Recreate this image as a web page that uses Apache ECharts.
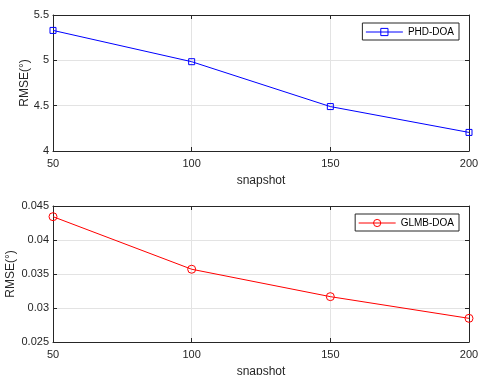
<!DOCTYPE html>
<html><head><meta charset="utf-8">
<script src="https://cdn.jsdelivr.net/npm/echarts@6/dist/echarts.min.js"></script>
<style>html,body{margin:0;padding:0;background:#fff}#c{width:479px;height:375px}</style>
</head><body><div id="c"></div>
<script>
const snapshots = [50, 100, 150, 200];
const phdDoa = [5.33, 4.985, 4.49, 4.205];
const glmbDoa = [0.04343, 0.0357, 0.03167, 0.02848];
const xTicks = [50, 100, 150, 200];

const chart = echarts.init(document.getElementById('c'));
const axisCol = '#262626';
const font = 'Liberation Sans, Arial, sans-serif';
const grids = [
  {left: 53, top: 15, width: 416, height: 136, show: false, containLabel: false, outerBoundsMode: 'none'},
  {left: 53, top: 206, width: 416, height: 136, show: false, containLabel: false, outerBoundsMode: 'none'}
];
function xAxisMain(gi) {
  return {type: 'value', gridIndex: gi, min: 50, max: 200, interval: 50,
    name: 'snapshot', nameLocation: 'middle', nameGap: 24, nameMoveOverlap: false,
    nameTextStyle: {color: axisCol, fontSize: 12, fontFamily: font},
    axisLine: {show: true, onZero: false, lineStyle: {color: axisCol, width: 1}},
    axisTick: {show: true, inside: true, length: 4, lineStyle: {color: axisCol}},
    axisLabel: {color: axisCol, fontSize: 11, fontFamily: font, margin: 7},
    splitLine: {show: true, lineStyle: {color: '#e3e3e3', width: 1}}};
}
function xAxisTop(gi) {
  return {type: 'value', gridIndex: gi, position: 'top', min: 50, max: 200, interval: 50,
    axisLine: {show: true, onZero: false, lineStyle: {color: axisCol, width: 1}},
    axisTick: {show: true, inside: true, length: 4, lineStyle: {color: axisCol}},
    axisLabel: {show: false}, splitLine: {show: false}};
}
function yAxisMain(gi, min, max, interval, gap, fmt) {
  return {type: 'value', gridIndex: gi, min: min, max: max, interval: interval,
    name: 'RMSE(°)', nameLocation: 'middle', nameGap: gap, nameRotate: 90, nameMoveOverlap: false,
    nameTextStyle: {color: axisCol, fontSize: 12, fontFamily: font},
    axisLine: {show: true, onZero: false, lineStyle: {color: axisCol, width: 1}},
    axisTick: {show: true, inside: true, length: 4, lineStyle: {color: axisCol}},
    axisLabel: {color: axisCol, fontSize: 11, fontFamily: font, margin: 4, formatter: fmt},
    splitLine: {show: true, lineStyle: {color: '#e3e3e3', width: 1}}};
}
function yAxisRight(gi, min, max, interval) {
  return {type: 'value', gridIndex: gi, position: 'right', min: min, max: max, interval: interval,
    axisLine: {show: true, onZero: false, lineStyle: {color: axisCol, width: 1}},
    axisTick: {show: true, inside: true, length: 4, lineStyle: {color: axisCol}},
    axisLabel: {show: false}, splitLine: {show: false}};
}
const fmtTop = v => String(+v.toFixed(2));
const fmtBot = v => String(+v.toFixed(3));
function legendCfg(name, top) {
  return {data: [name], right: 20, top: top, orient: 'vertical', itemWidth: 37, itemHeight: 9,
    padding: [4, 5, 3, 3], borderColor: axisCol, borderWidth: 1, backgroundColor: '#fff', borderRadius: 0,
    lineStyle: {width: 1}, itemStyle: {borderWidth: 1},
    textStyle: {color: '#000', fontSize: 10, fontFamily: font}, itemGap: 2};
}

chart.setOption({
  animation: false,
  backgroundColor: '#fff',
  grid: grids,
  xAxis: [xAxisMain(0), xAxisTop(0), xAxisMain(1), xAxisTop(1)],
  yAxis: [yAxisMain(0, 4, 5.5, 0.5, 22, fmtTop), yAxisRight(0, 4, 5.5, 0.5),
          yAxisMain(1, 0.025, 0.045, 0.005, 36, fmtBot), yAxisRight(1, 0.025, 0.045, 0.005)],
  legend: [legendCfg('PHD-DOA', 23), legendCfg('GLMB-DOA', 214)],
  series: [
    {name: 'PHD-DOA', type: 'line', xAxisIndex: 0, yAxisIndex: 0,
     data: snapshots.map((s, i) => [s, phdDoa[i]]),
     symbol: 'rect', symbolSize: 6, showAllSymbol: true,
     lineStyle: {color: '#0000ff', width: 1}, itemStyle: {color: 'rgba(0,0,0,0)', borderColor: '#0000ff', borderWidth: 1}},
    {name: 'GLMB-DOA', type: 'line', xAxisIndex: 2, yAxisIndex: 2,
     data: snapshots.map((s, i) => [s, glmbDoa[i]]),
     symbol: 'circle', symbolSize: 8, showAllSymbol: true,
     lineStyle: {color: '#ff0000', width: 1}, itemStyle: {color: 'rgba(0,0,0,0)', borderColor: '#ff0000', borderWidth: 1}}
  ]
});
</script></body></html>
